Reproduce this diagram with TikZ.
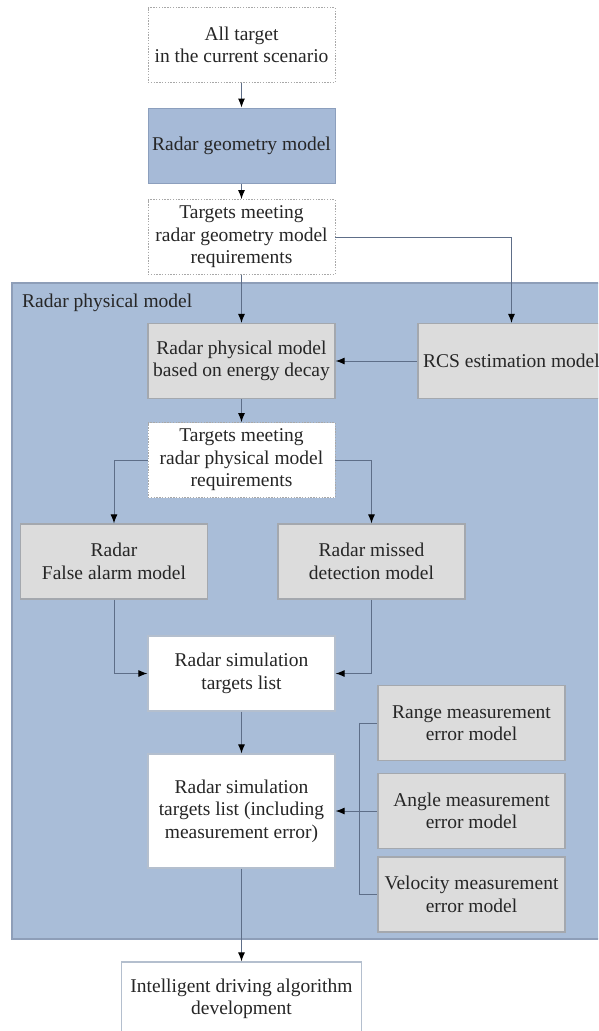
\documentclass[tikz,border=0pt]{standalone}
\usepackage{fontspec}
\setmainfont{Liberation Serif}
\usetikzlibrary{arrows.meta}

\definecolor{txt}{HTML}{262626}
\definecolor{physfill}{HTML}{A9BDD8}
\definecolor{physedge}{HTML}{8E9EB8}
\definecolor{geofill}{HTML}{A6BAD7}
\definecolor{geoedge}{HTML}{8C9FBD}
\definecolor{greyfill}{HTML}{DCDCDC}
\definecolor{greyedge}{HTML}{A4A8AE}
\definecolor{whiteedge}{HTML}{B4BFCE}
\definecolor{dotedge}{HTML}{A8A8A8}
\definecolor{linkc}{HTML}{5E6E88}

\tikzset{
  box/.style={rectangle, minimum width=187pt, minimum height=75pt, inner sep=0pt,
    align=center, text=txt, font=\fontsize{19.5}{22.5}\selectfont},
  dotbox/.style={box, fill=white, draw=dotedge, line width=0.8pt,
    dash pattern=on 1.4pt off 1.4pt},
  geobox/.style={box, fill=geofill, draw=geoedge, line width=1pt},
  greybox/.style={box, fill=greyfill, draw=greyedge, line width=1.2pt},
  whitebox/.style={box, fill=white, draw=whiteedge, line width=1.2pt},
  physbox/.style={rectangle, fill=physfill, draw=physedge, line width=1.5pt,
    minimum width=598pt, minimum height=656pt, inner sep=0pt},
  link/.style={draw=linkc, line width=1pt,
    -{Latex[length=9pt,width=7pt,color=black]}},
  plainlink/.style={draw=linkc, line width=1pt}
}

\begin{document}
\begin{tikzpicture}[x=1pt,y=-1pt]
  \useasboundingbox (0,0) rectangle (598,1031);
  \fill[white] (0,0) rectangle (598,1031);
  \clip (0,0) rectangle (598,1031);

  % enclosing region of the physical model
  \node[physbox] (phys) at (311,611) {};
  \node[anchor=base west, text=txt, font=\fontsize{19.5}{22.5}\selectfont, inner sep=0pt]
    (physlabel) at (22,307) {Radar physical model};

  % main column
  \node[dotbox]   (all)    at (241.5,45)    {All target\\in the current scenario};
  \node[geobox]   (geo)    at (241.5,145.5) {Radar geometry model};
  \node[dotbox]   (tgeo)   at (241.5,237)   {Targets meeting\\radar geometry model\\requirements};
  \node[greybox]  (decay)  at (241.5,361)   {Radar physical model\\based on energy decay};
  \node[greybox]  (rcs)    at (511.5,361)   {RCS estimation model};
  \node[dotbox]   (tphys)  at (241.5,460)   {Targets meeting\\radar physical model\\requirements};
  \node[greybox]  (false)  at (114,561.5)   {Radar\\False alarm model};
  \node[greybox]  (missed) at (371.5,561.5) {Radar missed\\detection model};
  \node[whitebox] (sim)    at (241.5,673.5) {Radar simulation\\targets list};
  \node[whitebox, minimum height=114pt] (simerr) at (241.5,811)
    {Radar simulation\\targets list (including\\measurement error)};
  \node[greybox]  (range)  at (471.5,723)   {Range measurement\\error model};
  \node[greybox]  (angle)  at (471.5,811)   {Angle measurement\\error model};
  \node[greybox]  (velo)   at (471.5,894.5) {Velocity measurement\\error model};
  \node[whitebox, minimum width=240pt, minimum height=74pt] (final) at (241.5,999)
    {Intelligent driving algorithm\\development};

  % connectors
  \draw[link] (all) -- (geo);
  \draw[link] (geo) -- (tgeo);
  \draw[link] (tgeo) -- (decay);
  \draw[link] (tgeo.east) -| (rcs.north);
  \draw[link] (rcs.west) -- (decay.east);
  \draw[link] (decay) -- (tphys);
  \draw[link] (tphys.west) -| (false.north);
  \draw[link] (tphys.east) -| (missed.north);
  \draw[link] (false.south) |- (sim.west);
  \draw[link] (missed.south) |- (sim.east);
  \draw[link] (sim) -- (simerr);

  % error models merge into one bracket
  \coordinate (brk) at (359,811);
  \draw[plainlink] (range.west) -- (range.west -| brk) -- (velo.west -| brk) -- (velo.west);
  \draw[link] (angle.west) -- (simerr.east);

  \draw[link] (simerr) -- (final);
\end{tikzpicture}
\end{document}
